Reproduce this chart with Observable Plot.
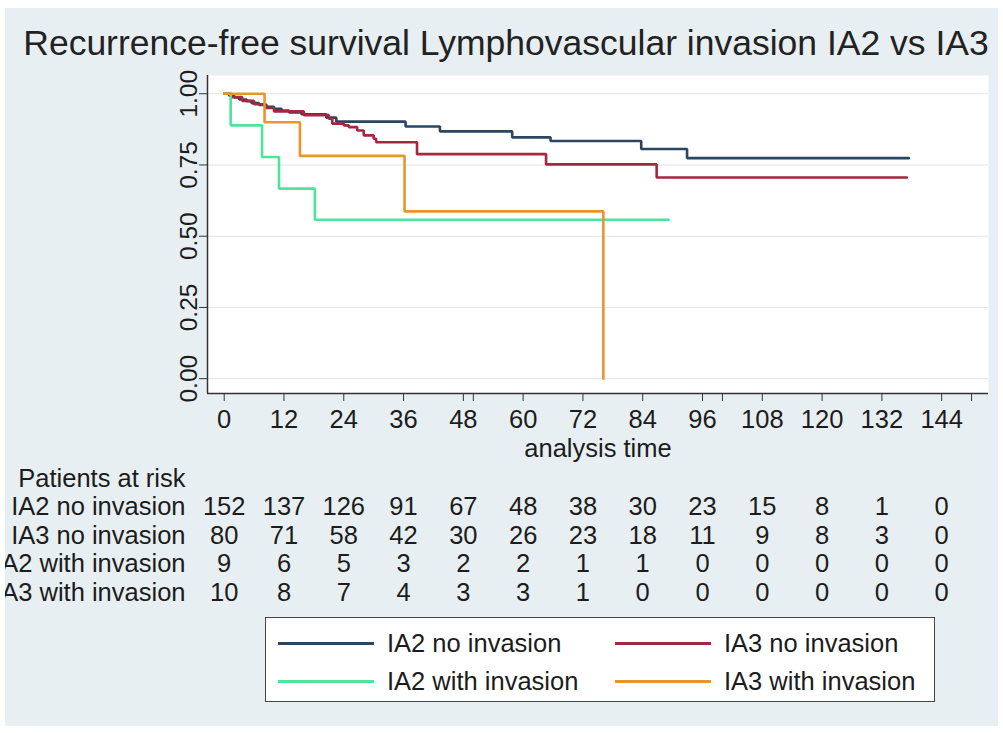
<!DOCTYPE html>
<html><head><meta charset="utf-8">
<script src="https://cdn.jsdelivr.net/npm/d3@7"></script>
<script src="https://cdn.jsdelivr.net/npm/@observablehq/plot@0.6"></script>
<style>
html,body{margin:0;padding:0;background:#fff;}
#wrap{position:absolute;left:5px;top:8px;width:993px;height:718px;overflow:hidden;background:#e8eff2;font-family:"Liberation Sans",Arial,sans-serif;color:#1c1c1c;}
#inner{position:absolute;left:-5px;top:-8px;width:1003px;height:733px;}
#title{position:absolute;left:0;width:1012px;top:23px;text-align:center;font-size:35.5px;line-height:40px;white-space:nowrap;color:#222;}
#chart{position:absolute;left:0;top:0;}
#legend{position:absolute;left:265px;top:617px;width:670px;height:85px;border:1.5px solid #444;background:#fff;box-sizing:border-box;}
.li{position:absolute;font-size:25.5px;line-height:28px;white-space:nowrap;}
.sw{position:absolute;height:3px;width:96px;}
</style>
</head><body>
<div id="wrap"><div id="inner">
<div id="title">Recurrence-free survival Lymphovascular invasion IA2 vs IA3</div>
<div id="chart"></div>
<div id="legend"></div>
</div></div>
<script>
// ---- data ----
const seriesNames = ["IA2 no invasion", "IA3 no invasion", "IA2 with invasion", "IA3 with invasion"];
const seriesColors = ["#2b4660", "#a8263f", "#4fe39c", "#e8952e"];

const timeIA2no = [0, 1, 2, 3, 4.5, 5.5, 7, 8.5, 10, 11.5, 13, 15.5, 20.5, 22.5, 36.4, 43.3, 57.8, 65.5, 83.7, 92.9, 137.4];
const survIA2no = [1, 0.993, 0.987, 0.980, 0.974, 0.967, 0.961, 0.954, 0.947, 0.941, 0.934, 0.928, 0.916, 0.902, 0.885, 0.868, 0.847, 0.834, 0.806, 0.774, 0.774];

const timeIA3no = [0, 1.5, 3.6, 6, 8.3, 10, 16, 21, 21.7, 24, 25, 26.7, 28, 30, 30.5, 38.7, 64.6, 86.8, 137];
const survIA3no = [1, 0.988, 0.975, 0.963, 0.950, 0.938, 0.925, 0.912, 0.895, 0.889, 0.883, 0.871, 0.854, 0.842, 0.830, 0.788, 0.752, 0.706, 0.706];

const timeIA2with = [0, 1.3, 7.6, 11, 18.2, 89.2];
const survIA2with = [1, 0.889, 0.778, 0.667, 0.558, 0.558];

const timeIA3with = [0, 8.1, 15.2, 36.2, 76.1];
const survIA3with = [1, 0.9, 0.782, 0.587, 0];

const riskTimes = [0, 12, 24, 36, 48, 60, 72, 84, 96, 108, 120, 132, 144];
const riskIA2no = [152, 137, 126, 91, 67, 48, 38, 30, 23, 15, 8, 1, 0];
const riskIA3no = [80, 71, 58, 42, 30, 26, 23, 18, 11, 9, 8, 3, 0];
const riskIA2with = [9, 6, 5, 3, 2, 2, 1, 1, 0, 0, 0, 0, 0];
const riskIA3with = [10, 8, 7, 4, 3, 3, 1, 0, 0, 0, 0, 0, 0];

const xTicks = riskTimes;
const xExtraTicks = [50, 100, 150];
const yTicks = [0, 0.25, 0.5, 0.75, 1];
const xDomain = [-3.35, 153.4];
const yDomain = [-0.052, 1.064];

// ---- build ----
const times = [timeIA2no, timeIA3no, timeIA2with, timeIA3with];
const survs = [survIA2no, survIA3no, survIA2with, survIA3with];
const curves = [];
seriesNames.forEach((s, k) => times[k].forEach((t, i) => curves.push({series: s, t, S: survs[k][i]})));
const risks = [riskIA2no, riskIA3no, riskIA2with, riskIA3with];

const txt = "#1c1c1c";
const fs = 25.5;
const rowDy0 = 93, rowStep = 28.5;
const tableMarks = [
  Plot.text(["Patients at risk"], {frameAnchor: "bottom-left", textAnchor: "end", dx: -22, dy: rowDy0, fontSize: fs, fill: txt})
];
seriesNames.forEach((s, k) => {
  const dy = rowDy0 + rowStep * (k + 1);
  tableMarks.push(Plot.text([s], {frameAnchor: "bottom-left", textAnchor: "end", dx: -22, dy, fontSize: fs, fill: txt}));
  tableMarks.push(Plot.text(riskTimes, {x: d => d, text: (d, i) => String(risks[k][i]), frameAnchor: "bottom", dy, fontSize: fs, fill: txt}));
});

const chart = Plot.plot({
  width: 1003,
  height: 610,
  marginLeft: 207,
  marginRight: 15,
  marginTop: 75,
  marginBottom: 217,
  style: {fontFamily: '"Liberation Sans", Arial, sans-serif', background: "transparent", overflow: "visible", color: txt},
  x: {domain: xDomain, label: null},
  y: {domain: yDomain, label: null},
  color: {domain: seriesNames, range: seriesColors},
  marks: [
    Plot.frame({fill: "#fff", stroke: "none"}),
    Plot.gridY(yTicks, {stroke: "#e3e3e3", strokeOpacity: 1, strokeWidth: 1}),
    Plot.line(curves, {x: "t", y: "S", z: "series", stroke: "series", curve: "step-after", strokeWidth: 2.6, strokeLinejoin: "miter"}),
    Plot.ruleY([yDomain[0]], {stroke: "#333", strokeWidth: 1.5}),
    Plot.ruleX([xDomain[0]], {stroke: "#333", strokeWidth: 1.5}),
    Plot.axisX(xTicks, {tickSize: 8, tickPadding: 8, fontSize: fs, label: null, stroke: "#333", fill: txt}),
    Plot.axisX(xExtraTicks, {tickSize: 8, tickFormat: () => "", label: null, stroke: "#333"}),
    Plot.axisY(yTicks, {tickSize: 8, tickRotate: -90, tickFormat: d3.format(".2f"), fontSize: 24.5, label: null, stroke: "#333", fill: txt}),
    Plot.text(["analysis time"], {frameAnchor: "bottom", dy: 63, fontSize: fs, fill: txt}),
    ...tableMarks
  ]
});
document.getElementById("chart").appendChild(chart);

// ---- legend ----
const legend = document.getElementById("legend");
const colX = [[12, 121], [349, 458]];
const rowY = [25, 63];
seriesNames.forEach((s, k) => {
  const c = k % 2, r = Math.floor(k / 2);
  const sw = document.createElement("div");
  sw.className = "sw";
  sw.style.left = colX[c][0] + "px";
  sw.style.top = (rowY[r] - 1.5) + "px";
  sw.style.background = chart.scale("color").apply(s);
  legend.appendChild(sw);
  const tx = document.createElement("div");
  tx.className = "li";
  tx.style.left = colX[c][1] + "px";
  tx.style.top = (rowY[r] - 14) + "px";
  tx.textContent = s;
  legend.appendChild(tx);
});
</script>
</body></html>
